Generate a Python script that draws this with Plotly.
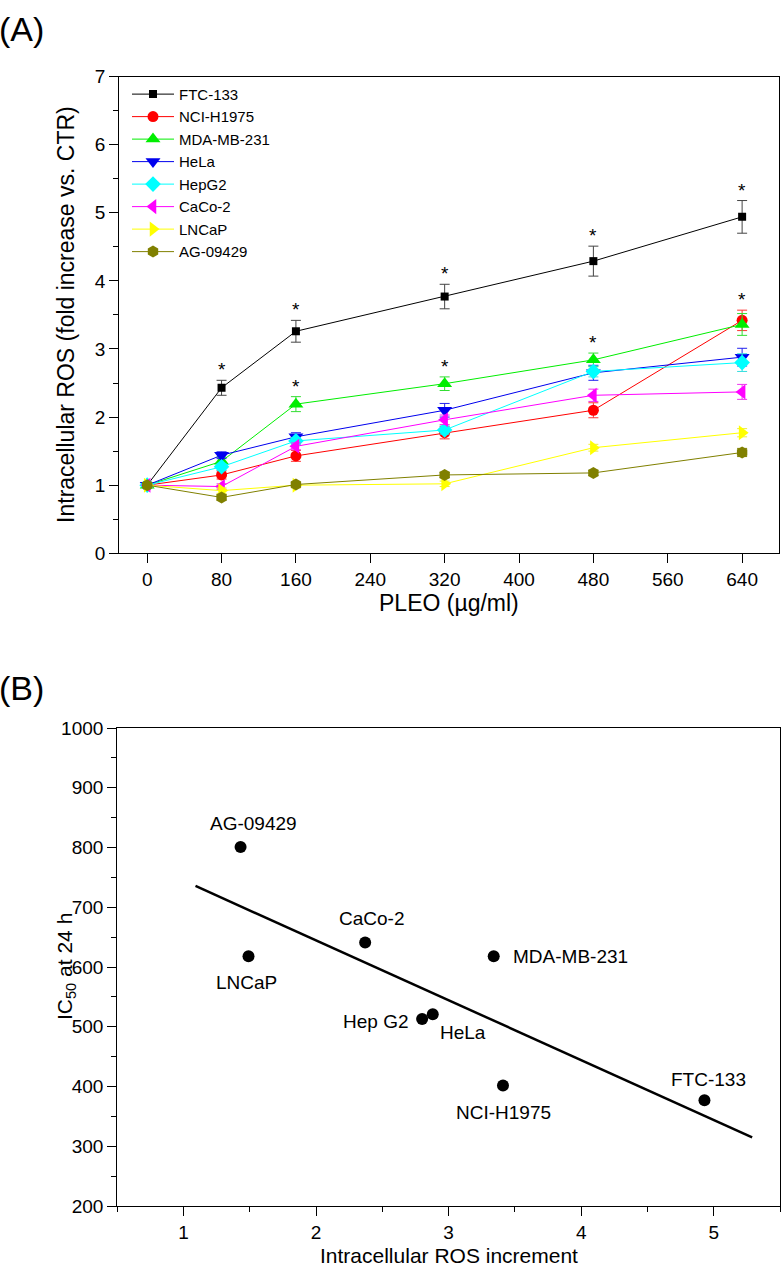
import numpy as np
import plotly.graph_objects as go

# ---------------- Panel A data ----------------
doses = [0, 80, 160, 320, 480, 640]
cell_lines = ["FTC-133", "NCI-H1975", "MDA-MB-231", "HeLa", "HepG2", "CaCo-2", "LNCaP", "AG-09429"]

ftc133 = [1.00, 2.43, 3.26, 3.77, 4.29, 4.94]
nci_h1975 = [1.00, 1.15, 1.43, 1.77, 2.10, 3.42]
mda_mb_231 = [1.00, 1.35, 2.19, 2.49, 2.84, 3.36]
hela = [1.00, 1.44, 1.71, 2.10, 2.65, 2.88]
hepg2 = [1.00, 1.27, 1.65, 1.81, 2.67, 2.80]
caco2 = [1.00, 0.98, 1.57, 1.96, 2.32, 2.37]
lncap = [1.00, 0.92, 1.00, 1.02, 1.55, 1.77]
ag09429 = [1.00, 0.82, 1.01, 1.15, 1.18, 1.48]

ftc133_err = [0.03, 0.11, 0.16, 0.18, 0.22, 0.24]
nci_h1975_err = [0.03, 0.06, 0.08, 0.09, 0.11, 0.15]
mda_mb_231_err = [0.03, 0.06, 0.11, 0.10, 0.10, 0.16]
hela_err = [0.03, 0.05, 0.06, 0.10, 0.11, 0.13]
hepg2_err = [0.03, 0.05, 0.05, 0.06, 0.08, 0.13]
caco2_err = [0.03, 0.04, 0.05, 0.07, 0.09, 0.11]
lncap_err = [0.02, 0.04, 0.04, 0.04, 0.05, 0.06]
ag09429_err = [0.02, 0.04, 0.03, 0.04, 0.04, 0.06]

# significance flags (1 = asterisk above the point)
ftc133_sig = [0, 1, 1, 1, 1, 1]
nci_h1975_sig = [0, 0, 0, 0, 0, 1]
mda_mb_231_sig = [0, 0, 1, 1, 1, 0]

x_ticks_a = [0, 80, 160, 240, 320, 400, 480, 560, 640]

# ---------------- Panel B data ----------------
cells_b = ["AG-09429", "LNCaP", "CaCo-2", "MDA-MB-231", "Hep G2", "HeLa", "NCI-H1975", "FTC-133"]
ros_increment = [1.43, 1.49, 2.37, 3.34, 2.80, 2.88, 3.41, 4.93]
ic50_24h = [801, 618, 641, 618, 513, 521, 402, 377]
fit_x_range = [1.09, 5.29]

# ---------------- styles ----------------
FONT = "Liberation Sans, Arial, sans-serif"
W, H = 782, 1284

series_vals = [ftc133, nci_h1975, mda_mb_231, hela, hepg2, caco2, lncap, ag09429]
series_errs = [ftc133_err, nci_h1975_err, mda_mb_231_err, hela_err, hepg2_err, caco2_err, lncap_err, ag09429_err]
colors = ["#000000", "#ff0000", "#00ee00", "#0000ee", "#00ffff", "#ff00ff", "#ffff00", "#808000"]
err_colors = ["#444444", "#ff3333", "#33dd33", "#2222ee", "#33dddd", "#ee33ee", "#eeee33", "#808000"]
symbols = ["square", "circle", "triangle-up", "triangle-down", "diamond", "triangle-left", "triangle-right", "hexagon"]
sizes = [8, 11, 13, 13, 12, 13, 13, 12]


def px_x(p):
    return p / W


def px_y(p):
    return 1 - p / H


fig = go.Figure()

for name, vals, errs, col, ecol, sym, sz in zip(cell_lines, series_vals, series_errs, colors, err_colors, symbols, sizes):
    fig.add_trace(go.Scatter(
        x=doses, y=vals, name=name, mode="lines+markers",
        line=dict(color=col, width=1),
        marker=dict(symbol=sym, size=sz, color=col, line=dict(width=0)),
        error_y=dict(type="data", array=errs, visible=True, color=ecol, thickness=1, width=5),
        xaxis="x", yaxis="y",
    ))

annotations = []
for vals, errs, sig in [(ftc133, ftc133_err, ftc133_sig), (nci_h1975, nci_h1975_err, nci_h1975_sig),
                        (mda_mb_231, mda_mb_231_err, mda_mb_231_sig)]:
    for d, v, e, s in zip(doses, vals, errs, sig):
        if s:
            annotations.append(dict(x=d, y=v + e, xref="x", yref="y", text="*", showarrow=False,
                                    yanchor="bottom", yshift=-2, font=dict(family=FONT, size=19, color="black")))

# Panel B scatter
fig.add_trace(go.Scatter(
    x=ros_increment, y=ic50_24h, mode="markers", showlegend=False,
    marker=dict(symbol="circle", size=12, color="black"),
    xaxis="x2", yaxis="y2",
))
slope, intercept = np.polyfit(ros_increment, ic50_24h, 1)
fx = np.array(fit_x_range)
fig.add_trace(go.Scatter(
    x=fx, y=slope * fx + intercept, mode="lines", showlegend=False,
    line=dict(color="black", width=2.5), xaxis="x2", yaxis="y2",
))

label_style = {
    "AG-09429": dict(xanchor="center", xshift=13, yshift=23),
    "LNCaP": dict(xanchor="center", xshift=-2, yshift=-26),
    "CaCo-2": dict(xanchor="center", xshift=6, yshift=24),
    "MDA-MB-231": dict(xanchor="left", xshift=17, yshift=0),
    "Hep G2": dict(xanchor="right", xshift=-12, yshift=-2),
    "HeLa": dict(xanchor="left", xshift=5, yshift=-18),
    "NCI-H1975": dict(xanchor="center", xshift=1, yshift=-27),
    "FTC-133": dict(xanchor="center", xshift=4, yshift=21),
}
for name, xv, yv in zip(cells_b, ros_increment, ic50_24h):
    st = label_style[name]
    annotations.append(dict(x=xv, y=yv, xref="x2", yref="y2", text=name, showarrow=False,
                            yanchor="middle", font=dict(family=FONT, size=19, color="black"), **st))

# titles and panel letters
annotations += [
    dict(x=px_x(449), y=px_y(603), xref="paper", yref="paper", text="PLEO (µg/ml)", showarrow=False,
         xanchor="center", yanchor="middle", font=dict(family=FONT, size=23, color="black")),
    dict(x=px_x(66), y=px_y(310), xref="paper", yref="paper", text="Intracellular ROS (fold increase vs. CTR)",
         showarrow=False, textangle=-90, xanchor="center", yanchor="middle",
         font=dict(family=FONT, size=23, color="black")),
    dict(x=px_x(66), y=px_y(973), xref="paper", yref="paper", text="IC<sub>50</sub> at 24 h",
         showarrow=False, textangle=-90, xanchor="center", yanchor="middle",
         font=dict(family=FONT, size=21, color="black")),
    dict(x=px_x(449), y=px_y(1266), xref="paper", yref="paper", text="Intracellular ROS increment",
         showarrow=False, xanchor="center", yanchor="middle", font=dict(family=FONT, size=21, color="black")),
    dict(x=0, y=px_y(19), xref="paper", yref="paper", text="(A)", showarrow=False,
         xanchor="left", yanchor="middle", xshift=-3, font=dict(family=FONT, size=34, color="black")),
    dict(x=0, y=px_y(689), xref="paper", yref="paper", text="(B)", showarrow=False,
         xanchor="left", yanchor="middle", xshift=-3, font=dict(family=FONT, size=34, color="black")),
]

axis_common = dict(showline=True, linecolor="black", linewidth=1.3, mirror=True, showgrid=False, zeroline=False,
                   ticks="outside", tickcolor="black", tickwidth=1.3, ticklen=9,
                   tickfont=dict(family=FONT, size=19, color="black"))

fig.update_layout(
    width=W, height=H,
    margin=dict(l=0, r=0, t=0, b=0),
    paper_bgcolor="white", plot_bgcolor="white",
    font=dict(family=FONT, color="black"),
    xaxis=dict(domain=[px_x(119.3), px_x(779.3)], range=[-30, 680], tickvals=x_ticks_a, anchor="y",
               **axis_common),
    yaxis=dict(domain=[px_y(552.3), px_y(67.7)], range=[0, 7], dtick=1, anchor="x",
               minor=dict(ticks="outside", ticklen=5, dtick=0.5, tickwidth=1.3, tickcolor="black", showgrid=False),
               **axis_common),
    xaxis2=dict(domain=[px_x(117.3), px_x(780)], range=[0.5, 5.5], dtick=1, anchor="y2",
                minor=dict(ticks="outside", ticklen=5, dtick=0.5, tickwidth=1.3, tickcolor="black", showgrid=False),
                **axis_common),
    yaxis2=dict(domain=[px_y(1216), px_y(730)], range=[200, 1000], dtick=100, anchor="x2",
                minor=dict(ticks="outside", ticklen=5, dtick=50, tickwidth=1.3, tickcolor="black", showgrid=False),
                **axis_common),
    legend=dict(x=px_x(127), y=px_y(69), xanchor="left", yanchor="top", bgcolor="rgba(0,0,0,0)",
                borderwidth=0, font=dict(family=FONT, size=15, color="black"), itemwidth=42,
                tracegroupgap=0),
    annotations=annotations,
    showlegend=True,
)

fig.write_html("out.html", config={"displayModeBar": False},
               post_script="document.body.style.margin='0';document.body.style.overflow='hidden';")
